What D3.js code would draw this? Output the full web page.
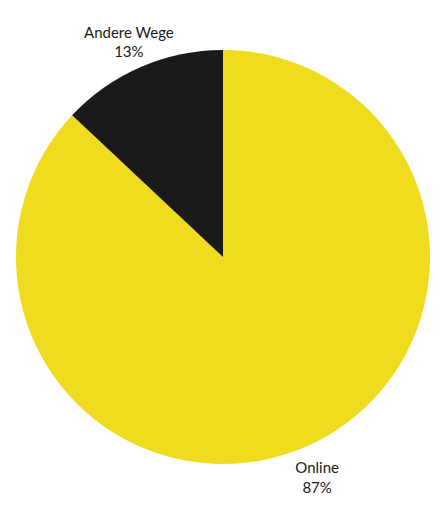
<!DOCTYPE html>
<html>
<head>
  <meta charset="utf-8">
  <title>Pie</title>
  <script src="https://d3js.org/d3.v7.min.js"></script>
  <style>
    body { margin: 0; background: #fff; }
    text { font-family: "Source Sans Pro", Lato, "Open Sans", sans-serif; font-size: 15px; fill: #1a1a1a; }
  </style>
</head>
<body>
  <div id="chart"></div>
  <script>
    var labels = ["Online", "Andere Wege"];
    var values = [87, 13];
    var colors = ["#f0dc1e", "#1a1a1a"];

    var width = 440, height = 508,
        cx = 223, cy = 257, radius = 207, labelRadius = 237;

    var svg = d3.select("#chart").append("svg")
        .attr("width", width)
        .attr("height", height)
      .append("g")
        .attr("transform", "translate(" + cx + "," + cy + ")");

    var data = labels.map(function(d, i) { return {label: d, value: values[i], color: colors[i]}; });

    var pie = d3.pie().sort(null).value(function(d) { return d.value; });
    var arc = d3.arc().innerRadius(0).outerRadius(radius);
    var labelArc = d3.arc().innerRadius(labelRadius).outerRadius(labelRadius);

    var arcs = pie(data);

    svg.selectAll("path")
      .data(arcs)
      .enter().append("path")
        .attr("d", arc)
        .attr("fill", function(d) { return d.data.color; });

    var lbl = svg.selectAll(".lbl")
      .data(arcs)
      .enter().append("text")
        .attr("class", "lbl")
        .attr("text-anchor", "middle")
        .attr("transform", function(d) { return "translate(" + labelArc.centroid(d) + ")"; });

    lbl.append("tspan").attr("x", 0).attr("dy", "-0.1em").text(function(d) { return d.data.label; });
    lbl.append("tspan").attr("x", 0).attr("dy", "1.3em").text(function(d) { return d.data.value + "%"; });
  </script>
</body>
</html>
